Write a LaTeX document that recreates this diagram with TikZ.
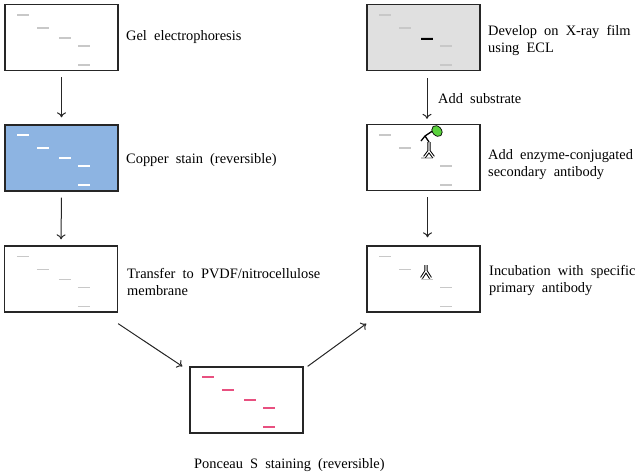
\documentclass[tikz,border=0pt]{standalone}
\usepackage{fontspec}
\setmainfont{Liberation Serif}[WordSpace=2]
\usetikzlibrary{arrows.meta}
\definecolor{copperblue}{RGB}{141,180,226}
\definecolor{filmgrey}{RGB}{224,224,224}
\definecolor{bandgrey}{RGB}{200,200,200}
\definecolor{ponceaupink}{RGB}{232,80,128}
\definecolor{enzgreen}{RGB}{90,210,60}
\tikzset{
  gelbox/.style={draw=black!85, line width=1.3pt, minimum width=113pt, minimum height=66pt, inner sep=0pt},
  steptext/.style={font=\fontsize{14.4}{17}\selectfont, anchor=west, align=left, inner sep=0pt},
  flow/.style={-{To[length=5pt,width=9pt]}, line width=1pt, black!85},
  abody/.style={draw=black, double=white, double distance=1.1pt, line width=1pt, line join=round}
}
\begin{document}
\begin{tikzpicture}[x=1pt,y=-1pt]
      \useasboundingbox (0,0) rectangle (635,475);

      \node[gelbox](gel)at(61.5,37.5){};
      \node[gelbox, fill=copperblue](copper)at(61.5,158){};
      \node[gelbox](transfer)at(61,279){};
      \node[gelbox](ponceau)at(246.5,400){};
      \node[gelbox](primary)at(423.5,279){};
      \node[gelbox](secondary)at(423.5,157.5){};
      \node[gelbox, fill=filmgrey](film)at(423.5,37.5){};

      % protein bands
      \foreach \n/\c/\w in {gel/bandgrey/1.3pt,copper/white/2.2pt,transfer/bandgrey/1.3pt,ponceau/ponceaupink/2.2pt,primary/bandgrey/1.3pt,secondary/bandgrey/1.3pt,film/bandgrey/1.3pt}
        \foreach \x/\y in {13/11,33/24,55/34,74/42,74/61}
          \draw[\c, line width=\w]([shift={(\x,\y)}]\n.north west)-- ++(12,0);
      \draw[black, line width=2pt]([shift={(55,35)}]film.north west)-- ++(12,0);

      % antibodies
      \draw[abody](426,265)--(426,271)(421.5,278)--(426,271)--(430.5,278);
      \draw[abody](429,142)--(429,151)(424.5,157)--(429,151)--(433.5,157);
      \draw[black, line width=1.3pt, line join=round](421,141)--(425,136)--(429,142)(425,136)--(434,130);
      \filldraw[fill=enzgreen, draw=black, line width=0.7pt, rotate around={40:(437,131)}](437,131) ellipse [x radius=4.5pt, y radius=6pt];

      \node[steptext](geltxt)at(126,37){Gel electrophoresis};
      \node[steptext](coppertxt)at(126,160){Copper stain (reversible)};
      \node[steptext](transfertxt)at(127,282){Transfer to PVDF/nitrocellulose\\membrane};
      \node[steptext](ponceautxt)at(194,465){Ponceau S staining (reversible)};
      \node[steptext](primarytxt)at(489,280){Incubation with specific\\primary antibody};
      \node[steptext](secondarytxt)at(488,165){Add enzyme-conjugated\\secondary antibody};
      \node[steptext](filmtxt)at(488,40){Develop on X-ray film\\using ECL};

      \draw[flow, shorten <=6pt, shorten >=7pt](gel.south)--(copper.north);
      \draw[flow, shorten <=6pt, shorten >=6pt](copper.south)--(transfer.north);
      \draw[flow]([yshift=-11pt]transfer.south east)--([xshift=-7pt]ponceau.north west);
      \draw[flow]([xshift=4pt]ponceau.north east)--([yshift=-11pt]primary.south west);
      \draw[flow, shorten <=6pt, shorten >=8pt]([xshift=4pt]secondary.south)--([xshift=4pt]primary.north);
      \draw[flow, shorten <=7pt, shorten >=5pt]([xshift=3.5pt]film.south)--([xshift=3.5pt]secondary.north);
      \node[steptext](subtxt)at(438,99){Add substrate};
    \end{tikzpicture}
\end{document}
